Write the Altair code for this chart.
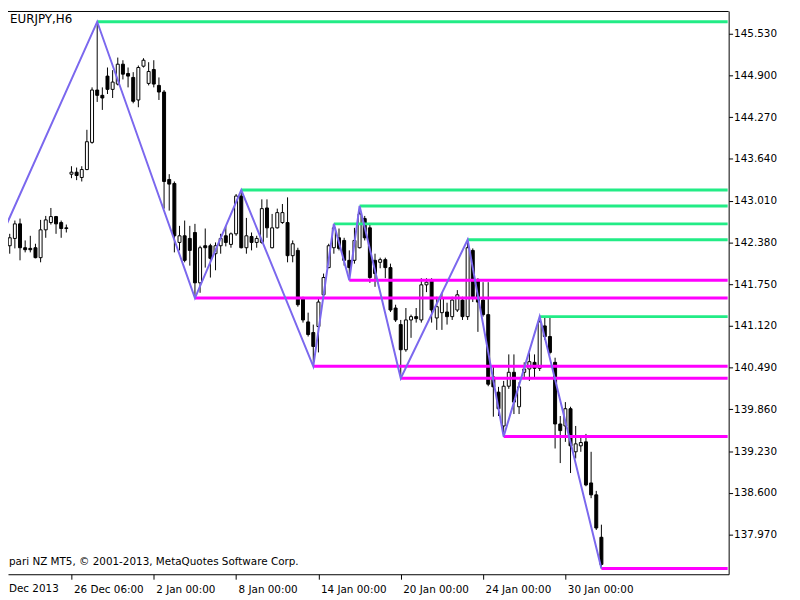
import altair as alt
import pandas as pd

# ---------------- data ----------------
opens = [
    142.41, 142.33, 142.44, 142.66, 142.30, 142.29, 142.30, 142.15, 142.57, 142.68,
    142.77, 142.68, 142.60, 143.41, 143.44, 143.36, 143.48, 143.89, 144.68, 144.60,
    144.89, 144.69, 144.77, 145.07, 144.93, 144.87, 144.53, 145.04, 144.78, 144.99,
    144.75, 144.65, 143.33, 143.27, 142.38, 142.48, 142.44, 142.53, 141.77, 142.33,
    142.33, 142.21, 142.33, 142.48, 142.35, 142.51, 143.08, 142.30, 142.47, 142.38,
    142.38, 142.90, 142.30, 142.60, 142.68, 142.68, 142.18, 142.26, 141.54, 141.18,
    141.02, 141.11, 141.59, 142.00, 142.30, 142.45, 142.41, 142.11, 142.11, 142.30,
    142.74, 142.60, 142.11, 142.08, 142.12, 142.00, 141.39, 141.14, 140.76, 141.21,
    141.26, 141.21, 141.74, 141.81, 141.24, 141.32, 141.33, 141.26, 141.36, 141.51,
    141.26, 142.26, 141.81, 141.51, 141.29, 140.35, 140.12, 139.61, 140.21, 140.42,
    139.90, 140.42, 140.47, 140.57, 140.48, 141.12, 140.96, 140.57, 139.64, 139.61,
    139.87, 139.22, 139.31, 139.37, 138.75, 138.57, 137.93,
]
highs = [
    142.51, 142.51, 142.71, 142.74, 142.41, 142.48, 142.36, 142.72, 142.78, 142.90,
    142.78, 142.71, 142.65, 143.53, 143.51, 143.53, 144.08, 144.72, 145.71, 144.72,
    145.02, 144.98, 145.17, 145.13, 145.02, 144.95, 145.05, 145.16, 145.10, 145.13,
    144.87, 144.68, 143.41, 143.30, 142.63, 142.71, 142.63, 142.66, 142.33, 142.59,
    142.36, 142.38, 142.51, 142.63, 142.53, 143.11, 143.17, 142.75, 142.53, 142.48,
    143.03, 143.03, 142.81, 142.89, 142.96, 143.06, 142.41, 142.30, 141.56, 141.32,
    141.14, 141.54, 141.91, 142.36, 142.66, 142.59, 142.45, 142.26, 142.60, 142.93,
    142.78, 142.66, 142.21, 142.15, 142.15, 142.06, 141.44, 141.21, 141.39, 141.29,
    141.39, 141.84, 141.84, 141.84, 141.56, 141.62, 141.47, 141.56, 141.66, 141.56,
    142.42, 142.29, 141.84, 141.78, 141.78, 140.51, 140.20, 140.29, 140.69, 140.69,
    140.27, 140.57, 140.72, 140.69, 141.26, 141.26, 141.26, 140.64, 139.76, 139.97,
    139.90, 139.61, 139.45, 139.49, 139.22, 138.63, 138.12,
]
lows = [
    142.23, 142.21, 142.29, 142.11, 142.23, 142.23, 142.14, 142.08, 142.45, 142.65,
    142.51, 142.45, 142.53, 143.35, 143.32, 143.30, 143.47, 143.87, 144.50, 144.38,
    144.62, 144.56, 144.75, 144.84, 144.72, 144.48, 144.42, 145.02, 144.75, 144.72,
    144.53, 142.89, 142.86, 142.23, 142.26, 142.08, 142.03, 141.54, 141.62, 142.00,
    141.85, 141.96, 142.21, 142.32, 142.30, 142.48, 142.29, 142.21, 142.26, 142.30,
    142.36, 142.45, 142.29, 142.59, 142.66, 142.08, 142.08, 141.41, 141.17, 140.96,
    140.51, 140.72, 141.54, 141.99, 142.21, 142.26, 142.03, 141.81, 142.06, 142.29,
    142.41, 141.77, 141.71, 141.99, 141.84, 141.33, 141.18, 140.33, 140.73, 140.94,
    141.17, 141.17, 141.63, 141.17, 141.06, 141.06, 141.14, 141.21, 141.33, 141.21,
    141.21, 141.48, 141.03, 141.26, 140.21, 139.75, 139.76, 139.45, 140.17, 139.79,
    139.79, 140.35, 140.29, 140.32, 140.44, 140.91, 140.69, 139.27, 139.05, 139.37,
    138.90, 139.12, 139.22, 138.70, 138.52, 138.04, 137.46,
]
closes = [
    142.33, 142.45, 142.66, 142.30, 142.27, 142.27, 142.15, 142.57, 142.72, 142.77,
    142.66, 142.59, 142.59, 143.44, 143.39, 143.48, 143.90, 144.68, 144.60, 144.56,
    144.69, 144.80, 145.07, 144.92, 144.89, 144.51, 145.02, 145.13, 144.96, 144.77,
    144.65, 143.30, 143.26, 142.48, 142.48, 142.11, 142.26, 141.77, 142.30, 142.30,
    142.14, 142.33, 142.44, 142.38, 142.51, 143.08, 142.30, 142.48, 142.38, 142.44,
    142.89, 142.60, 142.60, 142.83, 142.83, 142.18, 142.36, 141.44, 141.21, 140.99,
    140.81, 141.48, 141.85, 142.33, 142.60, 142.29, 142.11, 142.00, 142.41, 142.81,
    142.45, 141.85, 141.91, 142.12, 142.00, 141.36, 141.21, 140.76, 141.21, 141.26,
    141.23, 141.74, 141.78, 141.36, 141.41, 141.54, 141.26, 141.51, 141.59, 141.26,
    142.30, 141.56, 141.48, 141.29, 140.24, 140.20, 139.87, 140.21, 140.42, 139.97,
    140.20, 140.47, 140.58, 140.48, 141.18, 140.96, 140.72, 139.64, 139.54, 139.87,
    139.31, 139.34, 139.36, 138.72, 138.57, 138.07, 137.52,
]
bars = list(range(len(opens)))

# ZigZag pivots (bar index, price); first pivot lies left of the visible window
zz_bar = [-4, 18, 37, 46, 60, 64, 67, 69, 77, 90, 97, 104, 116]
zz_price = [141.89, 145.71, 141.54, 143.17, 140.51, 142.66, 141.81, 142.93,
            140.33, 142.42, 139.45, 141.26, 137.46]

# horizontal levels drawn from each pivot to the right edge
level_bar = [18, 46, 64, 69, 90, 104, 37, 60, 67, 77, 97, 116]
level_price = [145.71, 143.17, 142.66, 142.93, 142.42, 141.26,
               141.54, 140.51, 141.81, 140.33, 139.45, 137.46]
level_kind = ["high"] * 6 + ["low"] * 6

x_tick_bars = [13, 29, 45, 61, 77, 93, 109]
x_tick_labels = ["26 Dec 06:00", "2 Jan 00:00", "8 Jan 00:00", "14 Jan 00:00",
                 "20 Jan 00:00", "24 Jan 00:00", "30 Jan 00:00"]
y_ticks = [137.97, 138.60, 139.23, 139.86, 140.49, 141.12, 141.75,
           142.38, 143.01, 143.64, 144.27, 144.90, 145.53]

title_text = "EURJPY,H6"
footer_text = "pari NZ MT5, \u00a9 2001-2013, MetaQuotes Software Corp."
first_date_text = "Dec 2013"

# ---------------- chart ----------------
W, H = 728, 569
FONT = "DejaVu Sans"
GREEN = "#22EC86"
MAGENTA = "#FF00FF"
ZIGZAG = "#7B68EE"

xscale = alt.Scale(domain=[1.626, 139.77], nice=False, zero=False)
yscale = alt.Scale(domain=[137.372, 145.873], nice=False, zero=False)

label_expr = " : ".join(
    f"datum.value == {b} ? '{l}'" for b, l in zip(x_tick_bars, x_tick_labels)
) + " : ''"

candles = pd.DataFrame({"bar": bars, "open": opens, "high": highs,
                        "low": lows, "close": closes})
zz = pd.DataFrame({"bar": zz_bar, "price": zz_price})
levels = pd.DataFrame({"bar": level_bar, "price": level_price, "kind": level_kind})

x_axis = alt.Axis(values=x_tick_bars, labelExpr=label_expr, title=None, grid=False,
                  orient="bottom", domainColor="black", tickColor="black",
                  tickSize=5, labelAlign="left", labelBaseline="alphabetic",
                  labelPadding=13, labelOffset=2, labelFont=FONT, labelFontSize=10.5,
                  labelColor="black", labelOverlap=False, labelFlush=False)
y_axis = alt.Axis(values=y_ticks, format=".3f", title=None, grid=False,
                  orient="right", domainColor="black", tickColor="black",
                  tickSize=4, labelPadding=1, labelFont=FONT, labelFontSize=10.5,
                  labelColor="black", labelOverlap=False, labelFlush=False)


def X(field):
    return alt.X(field, scale=xscale, axis=x_axis)


def Y(field):
    return alt.Y(field, scale=yscale, axis=y_axis)


wicks = alt.Chart(candles).mark_rule(color="black", strokeWidth=1, clip=True).encode(
    x=X("bar:Q"), y=Y("low:Q"), y2="high:Q",
)
bodies = alt.Chart(candles).mark_bar(width=3, stroke="black", strokeWidth=1,
                                     clip=True).encode(
    x=X("bar:Q"), y=Y("open:Q"), y2="close:Q",
    fill=alt.condition("datum.close >= datum.open", alt.value("white"), alt.value("black")),
)
level_rules = alt.Chart(levels).mark_rule(strokeWidth=3, clip=True).encode(
    x=X("bar:Q"),
    x2=alt.value(W - 1),
    y=Y("price:Q"),
    color=alt.Color("kind:N", scale=alt.Scale(domain=["high", "low"],
                                              range=[GREEN, MAGENTA]), legend=None),
)
zigzag = alt.Chart(zz).mark_line(color=ZIGZAG, strokeWidth=2, clip=True).encode(
    x=X("bar:Q"), y=Y("price:Q"), order="bar:Q",
)
top_line = alt.Chart(pd.DataFrame({"a": [0]})).mark_rule(color="black", strokeWidth=1).encode(
    x=alt.value(0), x2=alt.value(W), y=alt.value(0.5)
)
title = alt.Chart(pd.DataFrame({"t": [title_text]})).mark_text(
    align="left", baseline="alphabetic", font=FONT, fontSize=12, color="black"
).encode(text="t:N", x=alt.value(2), y=alt.value(12))
footer = alt.Chart(pd.DataFrame({"t": [footer_text]})).mark_text(
    align="left", baseline="alphabetic", font=FONT, fontSize=10.5, color="black"
).encode(text="t:N", x=alt.value(1), y=alt.value(560))
first_date = alt.Chart(pd.DataFrame({"t": [first_date_text]})).mark_text(
    align="left", baseline="alphabetic", font=FONT, fontSize=10.5, color="black"
).encode(text="t:N", x=alt.value(1), y=alt.value(H + 18))

chart = alt.layer(
    wicks, bodies, level_rules, zigzag, top_line, title, footer, first_date
).properties(
    width=W, height=H,
    autosize=alt.AutoSizeParams(type="none"),
    padding={"left": 0, "top": 0, "right": 64, "bottom": 23},
    background="white",
).configure_view(stroke=None)

chart.save("out.html", embed_options={"renderer": "svg", "actions": False})
